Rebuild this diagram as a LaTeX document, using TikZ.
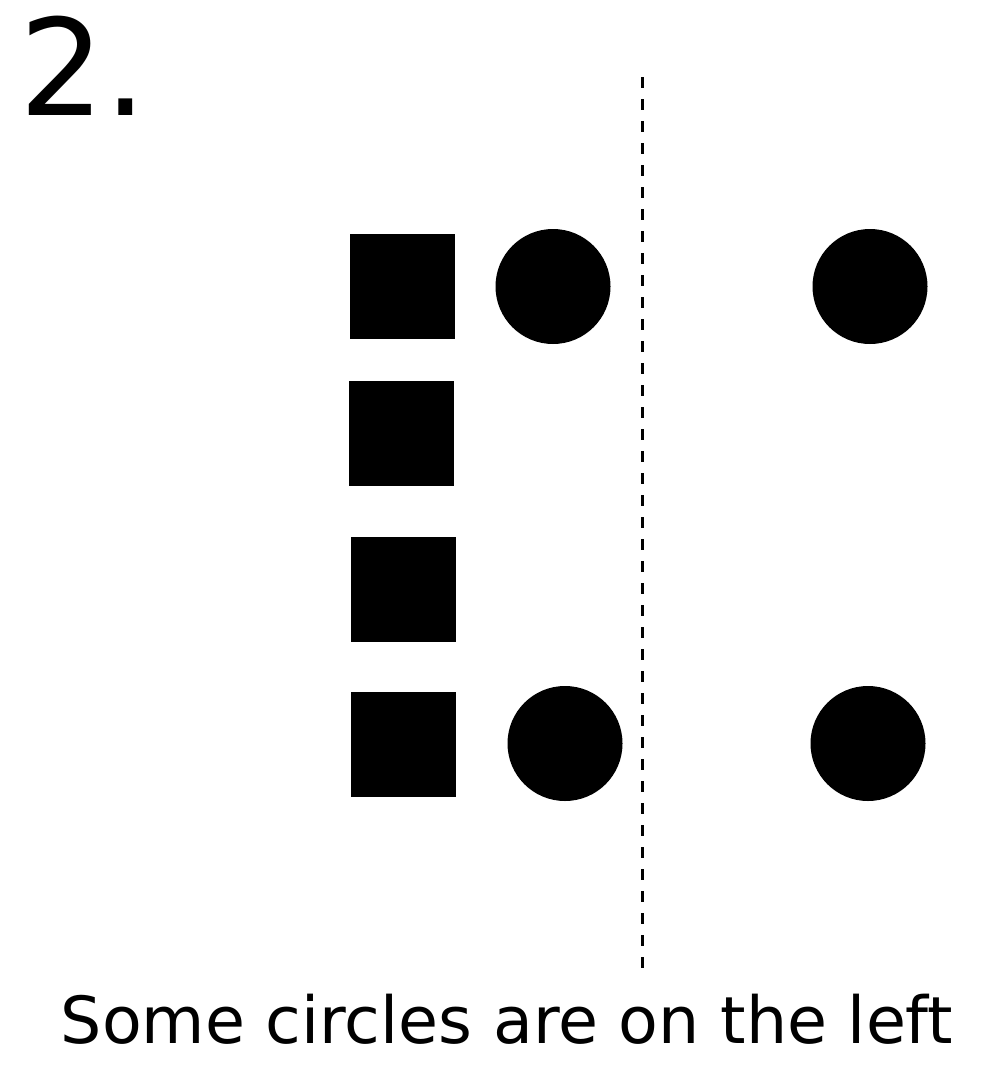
\documentclass[tikz,border=0pt]{standalone}
\usepackage{fontspec}
\setmainfont{DejaVu Sans}
\usetikzlibrary{positioning}

\begin{document}
\begin{tikzpicture}[
        x=1pt, y=-1pt,
        sq/.style={draw=none, fill=black, rectangle, minimum width=105pt, minimum height=105pt, inner sep=0pt},
        dot/.style={draw=none, fill=black, circle, minimum size=115pt, inner sep=0pt},
        divider/.style={line width=3pt, dash pattern=on 11pt off 11pt}
    ]
        \useasboundingbox (0,0) rectangle (1004,1076);

        % Title number
        \node[anchor=base west, inner sep=0pt, font=\fontsize{134}{134}\selectfont] (num) at (19,115) {2.};

        % Squares
        \node[sq] (sq1) at (402.5,286.5) {};
        \node[sq] (sq2) at (401.5,433.5) {};
        \node[sq] (sq3) at (403,589.5) {};
        \node[sq] (sq4) at (403,744) {};

        % Circles left of the line
        \node[dot] (c1) at (553,286.5) {};
        \node[dot] (c2) at (565,743.5) {};

        % Circles right of the line
        \node[dot] (c3) at (870,286.5) {};
        \node[dot] (c4) at (868,743.5) {};

        % Dividing line
        \coordinate (top) at (642,77);
        \coordinate (bot) at (642,968);
        \draw[divider] (top) -- (bot);

        % Caption
        \node[anchor=base, inner sep=0pt, font=\fontsize{65}{65}\selectfont] (caption) at (507,1043) {Some circles are on the left};

    \end{tikzpicture}
\end{document}
